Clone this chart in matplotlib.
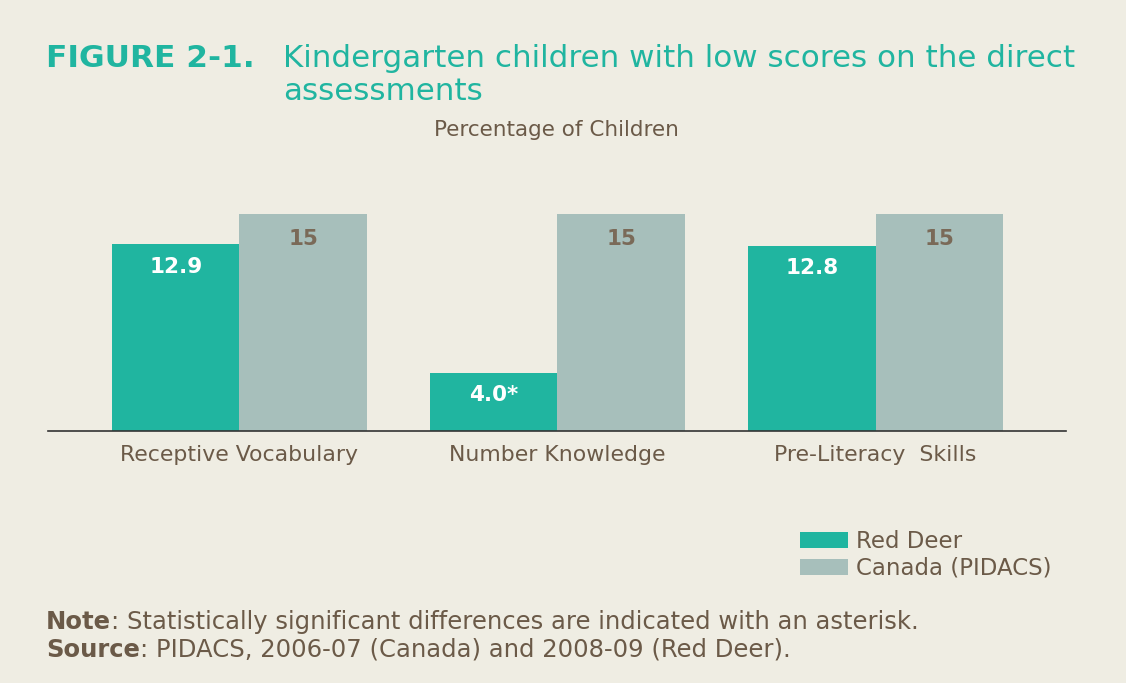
import numpy as np
import matplotlib.pyplot as plt

categories = ["Receptive Vocabulary", "Number Knowledge", "Pre-Literacy  Skills"]
red_deer = [12.9, 4.0, 12.8]
canada = [15, 15, 15]
red_deer_labels = ["12.9", "4.0*", "12.8"]
canada_labels = ["15", "15", "15"]

bg = "#efede3"
teal = "#20b5a0"
grey = "#a7bfbb"
brown = "#6b5a48"

W, H = 1126, 683
fig = plt.figure(figsize=(W / 100, H / 100), dpi=100, facecolor=bg)

# axes placed in pixel terms: baseline at y=431, 14.47 px per unit
ax_left, ax_right = 48, 1066
base_y = 431
px_per_unit = 14.47
ymax = 16
ax = fig.add_axes([ax_left / W, (H - base_y) / H, (ax_right - ax_left) / W,
                   ymax * px_per_unit / H])
ax.set_facecolor(bg)

x = np.arange(len(categories))
w = 0.4
b1 = ax.bar(x - w / 2, red_deer, w, color=teal, label="Red Deer")
b2 = ax.bar(x + w / 2, canada, w, color=grey, label="Canada (PIDACS)")
ax.set_xlim(-0.602, 2.599)
ax.set_ylim(0, ymax)

for rect, lab in zip(b1, red_deer_labels):
    ax.annotate(lab, (rect.get_x() + rect.get_width() / 2, rect.get_height()),
                xytext=(0, -16), textcoords="offset points", ha="center", va="center",
                color="white", fontsize=15.5, fontweight="bold")
for rect, lab in zip(b2, canada_labels):
    ax.annotate(lab, (rect.get_x() + rect.get_width() / 2, rect.get_height()),
                xytext=(0, -18), textcoords="offset points", ha="center", va="center",
                color="#7a6a58", fontsize=15.5, fontweight="bold")

for s in ["top", "left", "right"]:
    ax.spines[s].set_visible(False)
ax.spines["bottom"].set_color("#333333")
ax.spines["bottom"].set_linewidth(1.2)
ax.set_yticks([])
ax.set_xticks(x)
ax.set_xticklabels(categories, fontsize=15.8, color=brown)
ax.tick_params(axis="x", length=0, pad=10)

# title
fig.text(46 / W, 1 - 67 / H, "FIGURE 2-1.", fontsize=22.5, fontweight="bold",
         color=teal, va="baseline")
fig.text(283 / W, 1 - 67 / H, "Kindergarten children with low scores on the direct",
         fontsize=22.3, color=teal, va="baseline")
fig.text(283 / W, 1 - 100 / H, "assessments", fontsize=22.3, color=teal, va="baseline")
fig.text(556 / W, 1 - 136 / H, "Percentage of Children", fontsize=15.5,
         color=brown, ha="center", va="baseline")

# legend
handles, labels = ax.get_legend_handles_labels()
leg = fig.legend(handles, labels, loc="upper left",
                 bbox_to_anchor=(791 / W, 1 - 521 / H), frameon=False,
                 fontsize=16.5, labelcolor=brown, handlelength=2.1, handleheight=0.7,
                 handletextpad=0.35, labelspacing=0.15, borderaxespad=0)

# notes
r = fig.canvas.get_renderer()
t1 = fig.text(46 / W, 1 - 629 / H, "Note", fontsize=17.5, color=brown,
              fontweight="bold", va="baseline")
bb = t1.get_window_extent(r)
fig.text(bb.x1 / W, 1 - 629 / H,
         ": Statistically significant differences are indicated with an asterisk.",
         fontsize=17.5, color=brown, va="baseline")
t2 = fig.text(46 / W, 1 - 657 / H, "Source", fontsize=17.5, color=brown,
              fontweight="bold", va="baseline")
bb = t2.get_window_extent(r)
fig.text(bb.x1 / W, 1 - 657 / H,
         ": PIDACS, 2006-07 (Canada) and 2008-09 (Red Deer).",
         fontsize=17.5, color=brown, va="baseline")

plt.savefig("out.png", dpi=100, facecolor=bg)
